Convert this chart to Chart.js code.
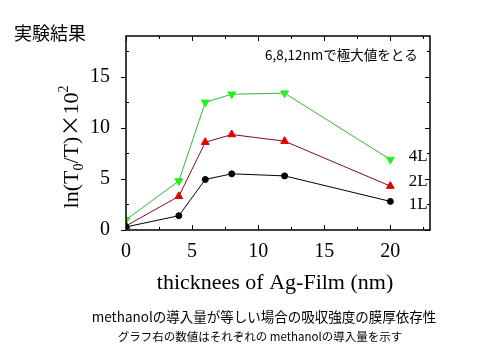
<!DOCTYPE html>
<html>
<head>
<meta charset="utf-8">
<script src="https://cdn.jsdelivr.net/npm/chart.js@4.4.0/dist/chart.umd.min.js"></script>
<style>
  body { margin: 0; background: #fff; }
</style>
</head>
<body>
<canvas id="chart" width="500" height="360"></canvas>
<script>
'use strict';

// thickness of Ag film (nm)
const thickness = [0, 4, 6, 8, 12, 20];
const values1L = [0.3, 1.4, 4.95, 5.5, 5.3, 2.8];
const values2L = [0.4, 3.3, 8.6, 9.35, 8.7, 4.3];
const values4L = [1.0, 4.8, 12.5, 13.3, 13.4, 6.9];
const seriesNames = ['1L', '2L', '4L'];
// where the series names sit (data coords)
const nameX = 22.1;
const nameY = [2.5, 4.7, 7.2];

const xTicks = [0, 5, 10, 15, 20];
const yTicks = [0, 5, 10, 15];
const xRange = [0, 23];
const yRange = [0, 19];
const minorStep = 2.5;

const titleText = '実験結果';
const noteText = '6,8,12nmで極大値をとる';
const xTitle = 'thicknees of Ag-Film (nm)';
const caption1 = 'methanolの導入量が等しい場合の吸収強度の膜厚依存性';
const caption2 = 'グラフ右の数値はそれぞれの methanolの導入量を示す';

const SERIF = "'Liberation Serif', 'DejaVu Serif', serif";
const JP = "'Noto Sans CJK JP', sans-serif";

function toPoints(xs, ys) {
  return xs.map((x, i) => ({ x: x, y: ys[i] }));
}

const decorations = {
  id: 'decorations',
  afterDraw(chart) {
    const ctx = chart.ctx;
    const area = chart.chartArea;
    const xs = chart.scales.x;
    const ys = chart.scales.y;
    ctx.save();

    // frame
    ctx.strokeStyle = '#000';
    ctx.lineWidth = 1.5;
    ctx.strokeRect(area.left, area.top, area.right - area.left, area.bottom - area.top);

    // ticks
    ctx.lineWidth = 1;
    ctx.beginPath();
    for (let v = xRange[0]; v <= xRange[1]; v += minorStep) {
      const px = Math.round(xs.getPixelForValue(v)) + 0.5;
      const len = v % 5 === 0 ? 5 : 3;
      ctx.moveTo(px, area.bottom); ctx.lineTo(px, area.bottom - len);
      ctx.moveTo(px, area.top); ctx.lineTo(px, area.top + len);
    }
    for (let v = yRange[0]; v <= yRange[1]; v += minorStep) {
      const py = Math.round(ys.getPixelForValue(v)) + 0.5;
      const major = v % 5 === 0;
      if (major) {
        ctx.moveTo(area.left, py); ctx.lineTo(area.left - 5, py);
      } else {
        ctx.moveTo(area.left, py); ctx.lineTo(area.left + 3, py);
      }
      ctx.moveTo(area.right, py); ctx.lineTo(area.right - (major ? 5 : 3), py);
    }
    ctx.stroke();

    ctx.fillStyle = '#000';

    // series names
    ctx.font = '17px ' + SERIF;
    ctx.textAlign = 'center';
    ctx.textBaseline = 'middle';
    seriesNames.forEach((n, i) => {
      ctx.fillText(n, xs.getPixelForValue(nameX), ys.getPixelForValue(nameY[i]));
    });

    // title
    ctx.font = '18px ' + JP;
    ctx.textAlign = 'left';
    ctx.fillText(titleText, 14, 33);

    // note inside plot
    ctx.font = '13.5px ' + JP;
    ctx.fillText(noteText, 265, 55);

    // x title
    ctx.font = '22px ' + SERIF;
    ctx.textAlign = 'center';
    ctx.fillText(xTitle, (area.left + area.right) / 2 - 3, 283);

    // captions
    ctx.font = '13.5px ' + JP;
    ctx.fillText(caption1, 264, 317);
    ctx.font = '11.5px ' + JP;
    ctx.fillText(caption2, 260, 337);

    // y title, rotated, with sub/superscript
    const parts = [
      { t: 'ln(T', f: '22px ' + SERIF, dy: 0 },
      { t: '0', f: '14px ' + SERIF, dy: 5 },
      { t: '/T)', f: '22px ' + SERIF, dy: 0 },
      { t: '×', f: '22px ' + JP, dy: 0 },
      { t: '10', f: '22px ' + SERIF, dy: 0 },
      { t: '2', f: '14px ' + SERIF, dy: -10 },
    ];
    let total = 0;
    parts.forEach(p => { ctx.font = p.f; p.w = ctx.measureText(p.t).width; total += p.w; });
    ctx.translate(78, 147);
    ctx.rotate(-Math.PI / 2);
    ctx.textAlign = 'left';
    ctx.textBaseline = 'alphabetic';
    let cx = -total / 2;
    parts.forEach(p => {
      ctx.font = p.f;
      ctx.fillText(p.t, cx, p.dy);
      cx += p.w;
    });

    ctx.restore();
  }
};

new Chart(document.getElementById('chart'), {
  type: 'line',
  data: {
    datasets: [
      {
        label: seriesNames[0],
        data: toPoints(thickness, values1L),
        borderColor: '#000',
        backgroundColor: '#000',
        pointStyle: 'circle',
        pointRadius: 3,
        borderWidth: 1,
      },
      {
        label: seriesNames[1],
        data: toPoints(thickness, values2L),
        borderColor: '#7a1020',
        backgroundColor: '#e00000',
        pointBorderColor: '#e00000',
        pointStyle: 'triangle',
        pointRadius: 4.5,
        borderWidth: 1,
      },
      {
        label: seriesNames[2],
        data: toPoints(thickness, values4L),
        borderColor: '#33bb33',
        backgroundColor: '#22ee22',
        pointBorderColor: '#22ee22',
        pointStyle: 'triangle',
        pointRotation: 180,
        pointRadius: 4.5,
        borderWidth: 1,
      },
    ]
  },
  options: {
    responsive: false,
    animation: false,
    layout: {
      padding: { top: 36, right: 70, left: 0, bottom: 0 }
    },
    plugins: {
      legend: { display: false },
      tooltip: { enabled: false }
    },
    scales: {
      x: {
        type: 'linear',
        min: xRange[0],
        max: xRange[1],
        afterBuildTicks: (scale) => { scale.ticks = xTicks.map(v => ({ value: v })); },
        afterFit: (scale) => { scale.height = 130; },
        grid: { display: false },
        border: { display: false },
        ticks: {
          color: '#000',
          font: { family: SERIF, size: 20 },
          padding: 2,
          maxRotation: 0,
        }
      },
      y: {
        type: 'linear',
        min: yRange[0],
        max: yRange[1],
        afterBuildTicks: (scale) => { scale.ticks = yTicks.map(v => ({ value: v })); },
        afterFit: (scale) => { scale.width = 126; },
        grid: { display: false },
        border: { display: false },
        ticks: {
          color: '#000',
          font: { family: SERIF, size: 20 },
          padding: 8,
        }
      }
    }
  },
  plugins: [decorations]
});
</script>
</body>
</html>
